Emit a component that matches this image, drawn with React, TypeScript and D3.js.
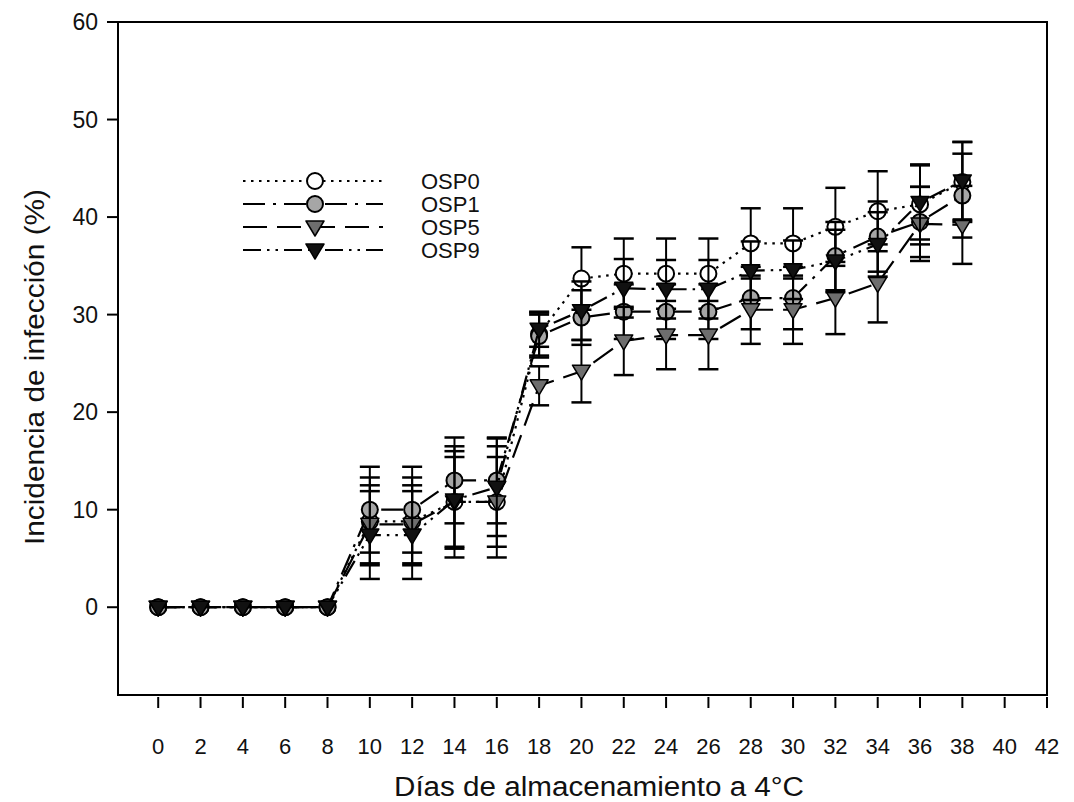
import React from "react";
import * as d3 from "d3";

const days = [0, 2, 4, 6, 8, 10, 12, 14, 16, 18, 20, 22, 24, 26, 28, 30, 32, 34, 36, 38];
const xTicks = [0, 2, 4, 6, 8, 10, 12, 14, 16, 18, 20, 22, 24, 26, 28, 30, 32, 34, 36, 38, 40, 42];
const yTicks = [0, 10, 20, 30, 40, 50, 60];

const osp0 = [0, 0, 0, 0, 0, 8.8, 8.8, 10.8, 10.8, 28.0, 33.7, 34.2, 34.2, 34.2, 37.3, 37.3, 39.0, 40.6, 41.3, 43.6];
const osp0Err = [0, 0, 0, 0, 0, 4.5, 4.5, 5.7, 5.7, 2.2, 3.2, 3.6, 3.6, 3.6, 3.6, 3.6, 4.0, 4.1, 4.1, 4.1];
const osp1 = [0, 0, 0, 0, 0, 10.0, 10.0, 13.0, 13.0, 27.8, 29.7, 30.3, 30.3, 30.3, 31.7, 31.7, 36.0, 38.0, 39.5, 42.2];
const osp1Err = [0, 0, 0, 0, 0, 4.4, 4.4, 4.4, 4.4, 2.2, 2.8, 2.8, 2.8, 2.8, 3.2, 3.2, 3.5, 3.6, 3.6, 4.3];
const osp5 = [0, 0, 0, 0, 0, 8.5, 8.5, 10.8, 10.8, 22.7, 24.2, 27.3, 27.9, 27.9, 30.5, 30.5, 31.7, 33.2, 39.3, 39.2];
const osp5Err = [0, 0, 0, 0, 0, 4.0, 4.0, 4.6, 4.6, 2.0, 3.2, 3.5, 3.5, 3.5, 3.5, 3.5, 3.7, 4.0, 3.8, 4.0];
const osp9 = [0, 0, 0, 0, 0, 7.4, 7.4, 11.0, 12.3, 28.5, 30.4, 32.7, 32.6, 32.6, 34.5, 34.6, 35.5, 37.2, 41.5, 43.7];
const osp9Err = [0, 0, 0, 0, 0, 4.5, 4.5, 5.0, 5.0, 1.8, 3.0, 3.0, 3.0, 3.0, 3.0, 3.0, 3.2, 3.3, 3.8, 4.0];

const seriesNames = ["OSP0", "OSP1", "OSP5", "OSP9"];

const W = 1074;
const H = 802;
const FL = 118, FR = 1047, FT = 22, FB = 695;

export default function App() {
  const x = d3.scaleLinear().domain([-1.9, 42]).range([FL, FR]);
  const y = d3.scaleLinear().domain([-9, 60]).range([FB, FT]);

  const series = [
    { name: seriesNames[0], v: osp0, e: osp0Err, dash: "2.5 5.5", shape: "circle", fill: "#ffffff" },
    { name: seriesNames[1], v: osp1, e: osp1Err, dash: "22 8 3 8", shape: "circle", fill: "#a6a6a6" },
    { name: seriesNames[2], v: osp5, e: osp5Err, dash: "24 10", shape: "tri", fill: "#6e6e6e" },
    { name: seriesNames[3], v: osp9, e: osp9Err, dash: "18 6 2.5 6 2.5 6", shape: "tri", fill: "#111111" },
  ];

  const line = d3.line<[number, number]>().x((d) => x(d[0])).y((d) => y(d[1]));

  const marker = (shape: string, fill: string, cx: number, cy: number, key: string) =>
    shape === "circle" ? (
      <circle key={key} cx={cx} cy={cy} r={8} fill={fill} stroke="#000" strokeWidth={2} />
    ) : (
      <path
        key={key}
        d={`M${cx - 9},${cy - 6} L${cx + 9},${cy - 6} L${cx},${cy + 9} Z`}
        fill={fill}
        stroke="#000"
        strokeWidth={1.5}
        strokeLinejoin="round"
      />
    );

  const legendY = [181, 204, 227, 250];

  return (
    <svg width={W} height={H} style={{ position: "absolute", left: 0, top: 0, background: "#fff" }} fontFamily="'Liberation Sans', Arial, sans-serif">
      <rect x={FL} y={FT} width={FR - FL} height={FB - FT} fill="none" stroke="#000" strokeWidth={2} />
      {yTicks.map((t) => (
        <g key={"y" + t}>
          <line x1={FL - 11} x2={FL} y1={y(t)} y2={y(t)} stroke="#000" strokeWidth={2} />
          <text x={FL - 20} y={y(t)} dy="0.36em" textAnchor="end" fontSize={23} fill="#111">
            {t}
          </text>
        </g>
      ))}
      {xTicks.map((t) => (
        <g key={"x" + t}>
          <line x1={x(t)} x2={x(t)} y1={FB + 2} y2={FB + 13} stroke="#000" strokeWidth={2} />
          <text x={x(t)} y={FB + 59} textAnchor="middle" fontSize={22} fill="#111">
            {t}
          </text>
        </g>
      ))}
      <text x={599} y={796} textAnchor="middle" fontSize={27} textLength={410} lengthAdjust="spacingAndGlyphs" fill="#111">
        Días de almacenamiento a 4°C
      </text>
      <text transform={`translate(44,367) rotate(-90)`} textAnchor="middle" fontSize={27} textLength={356} lengthAdjust="spacingAndGlyphs" fill="#111">
        Incidencia de infección (%)
      </text>

      {series.map((s) => {
        const pts: [number, number][] = days.map((d, i) => [d, s.v[i]]);
        return (
          <g key={s.name}>
            {days.map((d, i) =>
              s.e[i] > 0 ? (
                <g key={"e" + i}>
                  <line x1={x(d)} x2={x(d)} y1={y(s.v[i] - s.e[i])} y2={y(s.v[i] + s.e[i])} stroke="#000" strokeWidth={2} />
                  <line x1={x(d) - 10} x2={x(d) + 10} y1={y(s.v[i] + s.e[i])} y2={y(s.v[i] + s.e[i])} stroke="#000" strokeWidth={2.5} />
                  <line x1={x(d) - 10} x2={x(d) + 10} y1={y(s.v[i] - s.e[i])} y2={y(s.v[i] - s.e[i])} stroke="#000" strokeWidth={2.5} />
                </g>
              ) : null
            )}
            <path d={line(pts) || ""} fill="none" stroke="#000" strokeWidth={2.2} strokeDasharray={s.dash} />
            {pts.map((p, i) => marker(s.shape, s.fill, x(p[0]), y(p[1]), s.name + i))}
          </g>
        );
      })}

      {series.map((s, si) => (
        <g key={"lg" + s.name}>
          <line x1={243} x2={383} y1={legendY[si]} y2={legendY[si]} stroke="#000" strokeWidth={2.2} strokeDasharray={s.dash} />
          {marker(s.shape, s.fill, 315, legendY[si], "lm" + si)}
          <text x={421} y={legendY[si]} dy="0.36em" fontSize={22} fill="#111">
            {s.name}
          </text>
        </g>
      ))}
    </svg>
  );
}
